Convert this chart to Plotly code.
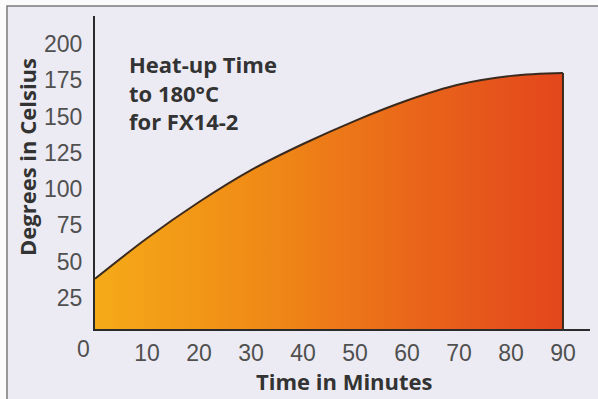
import plotly.graph_objects as go

# Heat-up curve of the FX14-2 (temperature in °C against time in minutes)
minutes = [0, 10, 20, 30, 40, 50, 60, 70, 80, 90]
temps = [38, 66, 91, 113, 131, 147, 161, 172, 178, 180]

x_ticks = [10, 20, 30, 40, 50, 60, 70, 80, 90]
y_ticks = [25, 50, 75, 100, 125, 150, 175, 200]

W, H = 598, 399
L, R, T, B = 95, 8, 16, 70
PW, PH = W - L - R, H - T - B


def px_x(px):
    return (px - L) / PW


def px_y(py):
    return (H - B - py) / PH


label_font = dict(family="Liberation Sans, Arial, sans-serif", size=23, color="#505050")
bold_font = dict(family="Open Sans, Noto Sans, sans-serif", size=22, color="#333333")

fig = go.Figure()

fig.add_trace(go.Scatter(
    x=minutes, y=temps, mode="lines",
    line=dict(shape="spline", smoothing=1.0, color="#3a2a1e", width=2),
    fill="tozeroy",
    fillgradient=dict(type="horizontal",
                      colorscale=[[0, "#f5aa18"], [0.35, "#f08b16"],
                                  [0.7, "#e9641a"], [1, "#e3461c"]]),
    hoverinfo="skip", showlegend=False,
))

# closing edge at the final time
fig.add_trace(go.Scatter(
    x=[minutes[-1], minutes[-1]], y=[0, temps[-1]], mode="lines",
    line=dict(color="#3a2a1e", width=2),
    hoverinfo="skip", showlegend=False,
))

fig.update_xaxes(
    range=[0, 95.2], showline=True, linecolor="#2b2b2b", linewidth=2,
    tickvals=x_ticks, ticks="outside", ticklen=2, tickcolor="rgba(0,0,0,0)",
    tickfont=label_font, showgrid=False, zeroline=False,
)
fig.update_yaxes(
    range=[3.4, 219.3], showline=True, linecolor="#2b2b2b", linewidth=2,
    tickvals=y_ticks, ticks="outside", ticklen=6, tickcolor="rgba(0,0,0,0)",
    tickfont=label_font, showgrid=False, zeroline=False,
)

annotations = [
    dict(text="0", x=0, y=px_y(349), xref="x", yref="paper", xshift=-12,
         showarrow=False, font=label_font, xanchor="center", yanchor="middle"),
    dict(text="<b>Heat-up Time<br>to 180°C<br>for FX14-2</b>",
         x=px_x(127), y=px_y(47), xref="paper", yref="paper", showarrow=False,
         align="left", xanchor="left", yanchor="top", font=bold_font),
    dict(text="<b>Time in Minutes</b>", x=px_x(344), y=px_y(381),
         xref="paper", yref="paper", showarrow=False,
         xanchor="center", yanchor="middle", font=bold_font),
    dict(text="<b>Degrees in Celsius</b>", x=px_x(27), y=px_y(157),
         xref="paper", yref="paper", showarrow=False, textangle=-90,
         xanchor="center", yanchor="middle", font=bold_font),
]

shapes = [
    dict(type="rect", xref="paper", yref="paper", layer="below",
         x0=px_x(7), x1=px_x(W + 5), y0=px_y(6), y1=px_y(H + 5),
         fillcolor="#ecebf3", line=dict(color="#7a7a7a", width=1.5)),
]

fig.update_layout(
    width=W, height=H,
    margin=dict(l=L, r=R, t=T, b=B),
    paper_bgcolor="#fbfbfb", plot_bgcolor="rgba(0,0,0,0)",
    annotations=annotations, shapes=shapes, showlegend=False,
)

fig.write_html("out.html")
